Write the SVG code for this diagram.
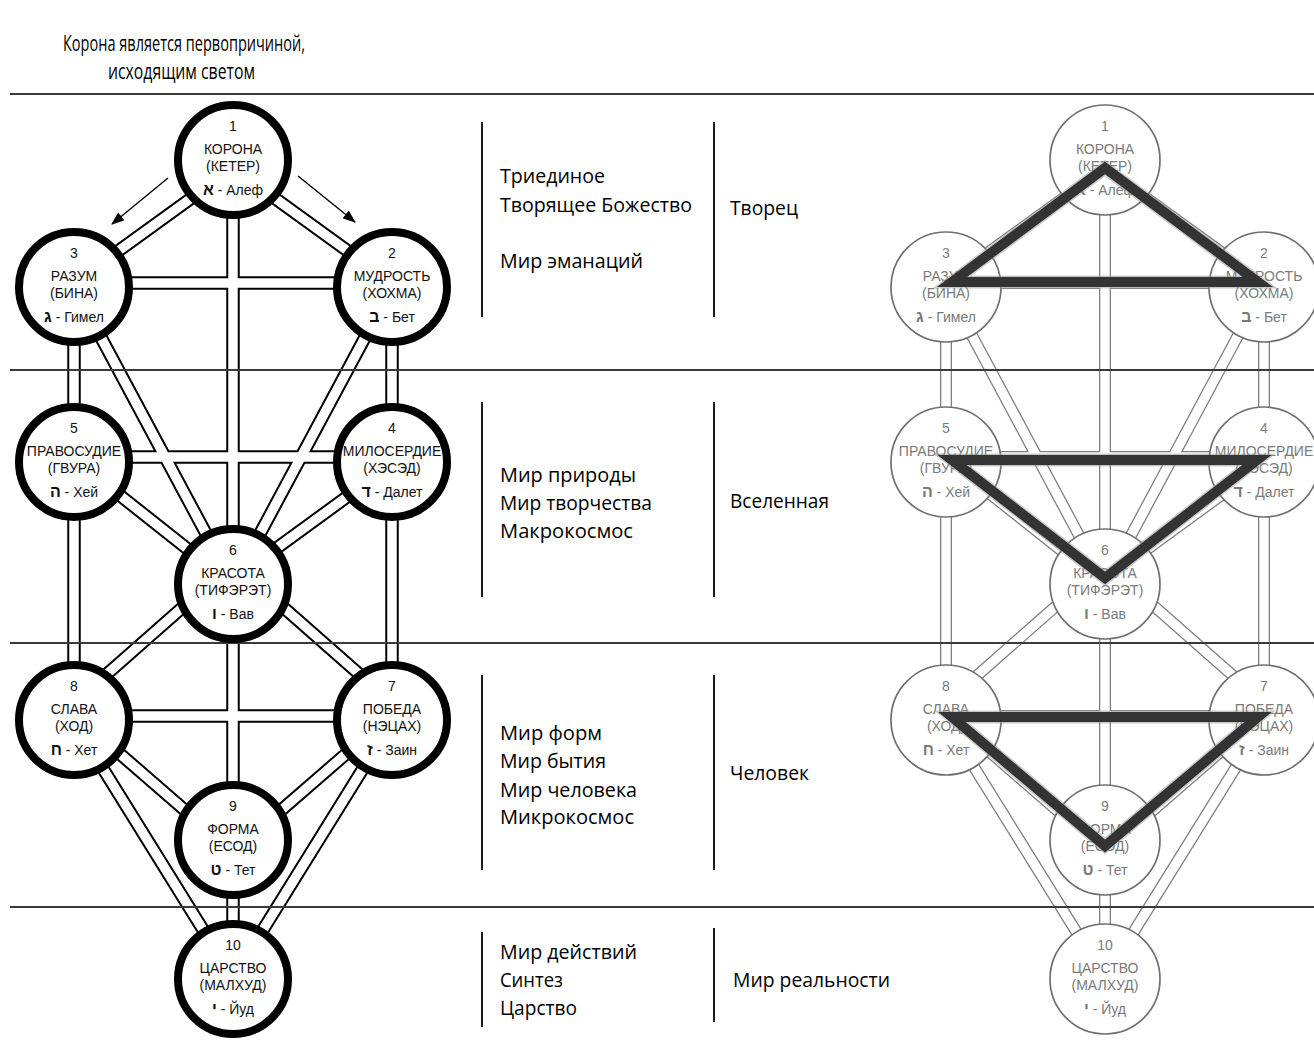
<svg xmlns="http://www.w3.org/2000/svg" xmlns:xlink="http://www.w3.org/1999/xlink" width="1314" height="1044" viewBox="0 0 1314 1044">
<style>
.nL circle{fill:#fff;stroke:#000;stroke-width:8}
.nR circle{fill:#fff;stroke:#707070;stroke-width:1.7}
.nL text,.nR text{font-family:"Liberation Sans",Arial,sans-serif;font-size:14px;text-anchor:middle}
.nL text{fill:#111}
.nR text{fill:#7a7a7a}
.h{font-weight:bold;font-size:16px}
.col{font-family:"Open Sans","Noto Sans",sans-serif;font-size:20px;fill:#000}
.hdr{font-family:"Open Sans","Noto Sans",sans-serif;font-size:21px;fill:#000}
.sep{stroke:#3a3a3a;stroke-width:2;fill:none}
.vl{stroke:#1a1a1a;stroke-width:2;fill:none}
.tri{fill:none;stroke:#333;stroke-width:10;stroke-linejoin:miter}
.trish{fill:none;stroke:#9a9a9a;stroke-width:13;stroke-linejoin:miter;opacity:0.55}
</style>
<defs>
<path id="pp" d="M233,168L74,283 M233,168L392,283 M233,160L233,584 M74,283L392,283 M74,287L74,722 M392,287L392,722 M74,287L233,584 M392,287L233,584 M74,457L392,457 M74,459L233,585 M392,464L233,580 M233,584L233,978 M233,563L74,703 M233,563L392,703 M74,716L392,716 M74,714L233,852 M392,714L233,852 M74,722L233,978 M392,722L233,978"/>
<marker id="ah" markerWidth="13" markerHeight="10" refX="12" refY="5" orient="auto" markerUnits="userSpaceOnUse"><path d="M0,0 L13,5 L0,10 z" fill="#000"/></marker>
</defs>
<rect width="1314" height="1044" fill="#fff"/>

<g id="header">
<text class="hdr" x="63" y="51" textLength="242" lengthAdjust="spacingAndGlyphs">Корона является первопричиной,</text>
<text class="hdr" x="108" y="79" textLength="147" lengthAdjust="spacingAndGlyphs">исходящим светом</text>
</g>

<g id="connectors">
<g id="connectors-left" fill="none">
<use xlink:href="#pp" href="#pp" stroke="#000" stroke-width="13.5"/>
<use xlink:href="#pp" href="#pp" stroke="#fff" stroke-width="9.5"/>
<line x1="168" y1="178" x2="112" y2="224" stroke="#000" stroke-width="1.4" marker-end="url(#ah)"/>
<line x1="298" y1="176" x2="355" y2="222" stroke="#000" stroke-width="1.4" marker-end="url(#ah)"/>
</g>
<g id="connectors-right" fill="none" transform="translate(872,0)">
<use xlink:href="#pp" href="#pp" stroke="#808080" stroke-width="12"/>
<use xlink:href="#pp" href="#pp" stroke="#fff" stroke-width="9.4"/>
</g>
</g>

<g id="separators">
<line class="sep" x1="10" y1="94" x2="1314" y2="94"/>
<line class="sep" x1="10" y1="370" x2="1314" y2="370"/>
<line class="sep" x1="10" y1="643" x2="1314" y2="643"/>
<line class="sep" x1="10" y1="907" x2="1314" y2="907"/>
<line class="vl" x1="482" y1="122" x2="482" y2="317"/>
<line class="vl" x1="714" y1="122" x2="714" y2="317"/>
<line class="vl" x1="482" y1="402" x2="482" y2="597"/>
<line class="vl" x1="714" y1="402" x2="714" y2="597"/>
<line class="vl" x1="482" y1="675" x2="482" y2="870"/>
<line class="vl" x1="714" y1="675" x2="714" y2="870"/>
<line class="vl" x1="482" y1="932" x2="482" y2="1027"/>
<line class="vl" x1="714" y1="928" x2="714" y2="1022"/>
</g>

<g id="nodes-left">
<g id="n1" class="nL" transform="translate(233,160)"><circle r="55"/><text y="-29">1</text><text y="-6">КОРОНА</text><text y="10.5">(КЕТЕР)</text><text y="34.5"><tspan class="h">א</tspan> - Алеф</text></g>
<g id="n2" class="nL" transform="translate(392,287)"><circle r="55"/><text y="-29">2</text><text y="-6">МУДРОСТЬ</text><text y="10.5">(ХОХМА)</text><text y="34.5"><tspan class="h">ב</tspan> - Бет</text></g>
<g id="n3" class="nL" transform="translate(74,287)"><circle r="55"/><text y="-29">3</text><text y="-6">РАЗУМ</text><text y="10.5">(БИНА)</text><text y="34.5"><tspan class="h">ג</tspan> - Гимел</text></g>
<g id="n4" class="nL" transform="translate(392,462)"><circle r="55"/><text y="-29">4</text><text y="-6">МИЛОСЕРДИЕ</text><text y="10.5">(ХЭСЭД)</text><text y="34.5"><tspan class="h">ד</tspan> - Далет</text></g>
<g id="n5" class="nL" transform="translate(74,462)"><circle r="55"/><text y="-29">5</text><text y="-6">ПРАВОСУДИЕ</text><text y="10.5">(ГВУРА)</text><text y="34.5"><tspan class="h">ה</tspan> - Хей</text></g>
<g id="n6" class="nL" transform="translate(233,584)"><circle r="55"/><text y="-29">6</text><text y="-6">КРАСОТА</text><text y="10.5">(ТИФЭРЭТ)</text><text y="34.5"><tspan class="h">ו</tspan> - Вав</text></g>
<g id="n7" class="nL" transform="translate(392,720)"><circle r="55"/><text y="-29">7</text><text y="-6">ПОБЕДА</text><text y="10.5">(НЭЦАХ)</text><text y="34.5"><tspan class="h">ז</tspan> - Заин</text></g>
<g id="n8" class="nL" transform="translate(74,720)"><circle r="55"/><text y="-29">8</text><text y="-6">СЛАВА</text><text y="10.5">(ХОД)</text><text y="34.5"><tspan class="h">ח</tspan> - Хет</text></g>
<g id="n9" class="nL" transform="translate(233,840)"><circle r="55"/><text y="-29">9</text><text y="-6">ФОРМА</text><text y="10.5">(ЕСОД)</text><text y="34.5"><tspan class="h">ט</tspan> - Тет</text></g>
<g id="n10" class="nL" transform="translate(233,979)"><circle r="55"/><text y="-29">10</text><text y="-6">ЦАРСТВО</text><text y="10.5">(МАЛХУД)</text><text y="34.5"><tspan class="h">י</tspan> - Йуд</text></g>
</g>

<g id="nodes-right">
<g id="r1" class="nR" transform="translate(1105,160)"><circle r="55"/><text y="-29">1</text><text y="-6">КОРОНА</text><text y="10.5">(КЕТЕР)</text><text y="34.5"><tspan class="h">א</tspan> - Алеф</text></g>
<g id="r2" class="nR" transform="translate(1264,287)"><circle r="55"/><text y="-29">2</text><text y="-6">МУДРОСТЬ</text><text y="10.5">(ХОХМА)</text><text y="34.5"><tspan class="h">ב</tspan> - Бет</text></g>
<g id="r3" class="nR" transform="translate(946,287)"><circle r="55"/><text y="-29">3</text><text y="-6">РАЗУМ</text><text y="10.5">(БИНА)</text><text y="34.5"><tspan class="h">ג</tspan> - Гимел</text></g>
<g id="r4" class="nR" transform="translate(1264,462)"><circle r="55"/><text y="-29">4</text><text y="-6">МИЛОСЕРДИЕ</text><text y="10.5">(ХЭСЭД)</text><text y="34.5"><tspan class="h">ד</tspan> - Далет</text></g>
<g id="r5" class="nR" transform="translate(946,462)"><circle r="55"/><text y="-29">5</text><text y="-6">ПРАВОСУДИЕ</text><text y="10.5">(ГВУРА)</text><text y="34.5"><tspan class="h">ה</tspan> - Хей</text></g>
<g id="r6" class="nR" transform="translate(1105,584)"><circle r="55"/><text y="-29">6</text><text y="-6">КРАСОТА</text><text y="10.5">(ТИФЭРЭТ)</text><text y="34.5"><tspan class="h">ו</tspan> - Вав</text></g>
<g id="r7" class="nR" transform="translate(1264,720)"><circle r="55"/><text y="-29">7</text><text y="-6">ПОБЕДА</text><text y="10.5">(НЭЦАХ)</text><text y="34.5"><tspan class="h">ז</tspan> - Заин</text></g>
<g id="r8" class="nR" transform="translate(946,720)"><circle r="55"/><text y="-29">8</text><text y="-6">СЛАВА</text><text y="10.5">(ХОД)</text><text y="34.5"><tspan class="h">ח</tspan> - Хет</text></g>
<g id="r9" class="nR" transform="translate(1105,840)"><circle r="55"/><text y="-29">9</text><text y="-6">ФОРМА</text><text y="10.5">(ЕСОД)</text><text y="34.5"><tspan class="h">ט</tspan> - Тет</text></g>
<g id="r10" class="nR" transform="translate(1105,979)"><circle r="55"/><text y="-29">10</text><text y="-6">ЦАРСТВО</text><text y="10.5">(МАЛХУД)</text><text y="34.5"><tspan class="h">י</tspan> - Йуд</text></g>
</g>

<g id="triangles">
<polygon class="trish" points="1105,168 952,282 1258,282"/>
<polygon class="tri" points="1105,168 952,282 1258,282"/>
<polygon class="trish" points="952,460 1257,460 1105,578"/>
<polygon class="tri" points="952,460 1257,460 1105,578"/>
<polygon class="trish" points="952,717 1258,717 1105,846"/>
<polygon class="tri" points="952,717 1258,717 1105,846"/>
</g>

<g id="labels">
<text class="col" x="500" y="183" textLength="105" lengthAdjust="spacingAndGlyphs">Триединое</text>
<text class="col" x="500" y="212" textLength="192" lengthAdjust="spacingAndGlyphs">Творящее  Божество</text>
<text class="col" x="500" y="268" textLength="143" lengthAdjust="spacingAndGlyphs">Мир эманаций</text>
<text class="col" x="730" y="215" textLength="68" lengthAdjust="spacingAndGlyphs">Творец</text>
<text class="col" x="500" y="482" textLength="136" lengthAdjust="spacingAndGlyphs">Мир природы</text>
<text class="col" x="500" y="510" textLength="152" lengthAdjust="spacingAndGlyphs">Мир творчества</text>
<text class="col" x="500" y="538" textLength="133" lengthAdjust="spacingAndGlyphs">Макрокосмос</text>
<text class="col" x="730" y="508" textLength="99" lengthAdjust="spacingAndGlyphs">Вселенная</text>
<text class="col" x="500" y="740" textLength="102" lengthAdjust="spacingAndGlyphs">Мир форм</text>
<text class="col" x="500" y="768" textLength="106" lengthAdjust="spacingAndGlyphs">Мир бытия</text>
<text class="col" x="500" y="797" textLength="137" lengthAdjust="spacingAndGlyphs">Мир человека</text>
<text class="col" x="500" y="824" textLength="134" lengthAdjust="spacingAndGlyphs">Микрокосмос</text>
<text class="col" x="730" y="780" textLength="79" lengthAdjust="spacingAndGlyphs">Человек</text>
<text class="col" x="500" y="959" textLength="137" lengthAdjust="spacingAndGlyphs">Мир действий</text>
<text class="col" x="500" y="987" textLength="63" lengthAdjust="spacingAndGlyphs">Синтез</text>
<text class="col" x="500" y="1015" textLength="77" lengthAdjust="spacingAndGlyphs">Царство</text>
<text class="col" x="733" y="987" textLength="157" lengthAdjust="spacingAndGlyphs">Мир реальности</text>
</g>
</svg>
